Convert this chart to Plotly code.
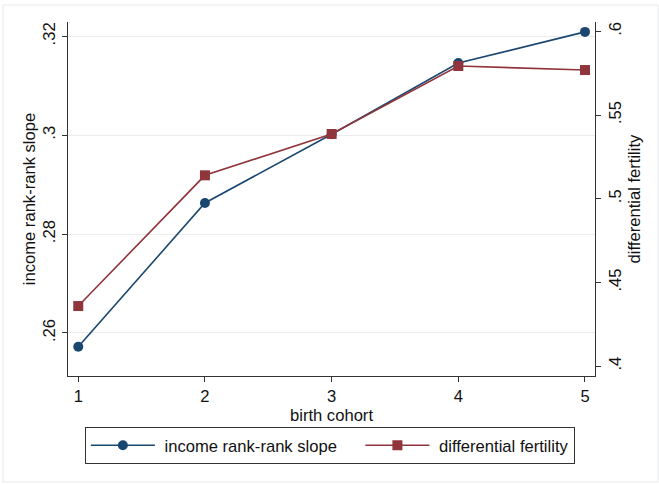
import plotly.graph_objects as go

cohort = [1, 2, 3, 4, 5]
rank_slope = [0.2572, 0.2863, 0.3002, 0.3146, 0.3209]
diff_fert = [0.4359, 0.5140, 0.5387, 0.5793, 0.5769]

left_ticks = [0.26, 0.28, 0.30, 0.32]
left_labels = [".26", ".28", ".3", ".32"]
right_ticks = [0.40, 0.45, 0.50, 0.55, 0.60]
right_labels = [".4", ".45", ".5", ".55", ".6"]

BLUE = "#1a476f"
RED = "#90353b"
FONT = "Liberation Sans, Arial, sans-serif"
FS = 16.6
NB = "\u00a0"

fig = go.Figure()
fig.add_trace(go.Scatter(
    x=cohort, y=rank_slope, name=NB + "income rank-rank slope" + NB * 4,
    mode="lines+markers", line=dict(color=BLUE, width=1.6),
    marker=dict(symbol="circle", size=10, color=BLUE), yaxis="y"))
fig.add_trace(go.Scatter(
    x=cohort, y=diff_fert, name=NB + "differential fertility",
    mode="lines+markers", line=dict(color=RED, width=1.6),
    marker=dict(symbol="square", size=10, color=RED), yaxis="y2"))

axis_common = dict(showline=True, linecolor="#333", linewidth=1.2,
                   ticks="outside", ticklen=5, tickcolor="#333",
                   tickfont=dict(size=FS, color="#111", family=FONT),
                   zeroline=False, automargin=False)

fig.update_layout(
    width=659, height=484,
    margin=dict(l=68, r=64, t=22, b=108),
    paper_bgcolor="white", plot_bgcolor="white",
    font=dict(family=FONT, size=FS, color="#111"),
    showlegend=True,
    legend=dict(orientation="h", x=0.032, xanchor="left", y=-0.144, yanchor="top",
                bordercolor="#333", borderwidth=1, font=dict(size=FS, family=FONT),
                itemwidth=64, bgcolor="white"),
    xaxis=dict(range=[0.919, 5.079], tickvals=cohort, ticktext=[str(c) for c in cohort],
               title=dict(text="birth cohort", font=dict(size=FS), standoff=2),
               showgrid=False, **axis_common),
    yaxis=dict(range=[0.2513, 0.3229], tickvals=left_ticks, ticktext=left_labels,
               tickangle=-90, showgrid=True, gridcolor="#ececec", gridwidth=1,
               title=dict(text="income rank-rank slope", font=dict(size=FS), standoff=0),
               **axis_common),
    yaxis2=dict(range=[0.3941, 0.6056], tickvals=right_ticks, ticktext=right_labels,
                tickangle=-90, overlaying="y", side="right", showgrid=False,
                title=dict(text="differential fertility", font=dict(size=FS), standoff=4),
                **axis_common),
)

fig.add_shape(type="rect", xref="paper", yref="paper",
              x0=(3 - 68) / 527, x1=(658 - 68) / 527,
              y0=(376 - 482) / 354, y1=(376 - 5) / 354,
              line=dict(color="#e6e8ec", width=1), layer="below")

fig.write_html("out.html", config={"displayModeBar": False},
               post_script="document.body.style.margin='0px';")
